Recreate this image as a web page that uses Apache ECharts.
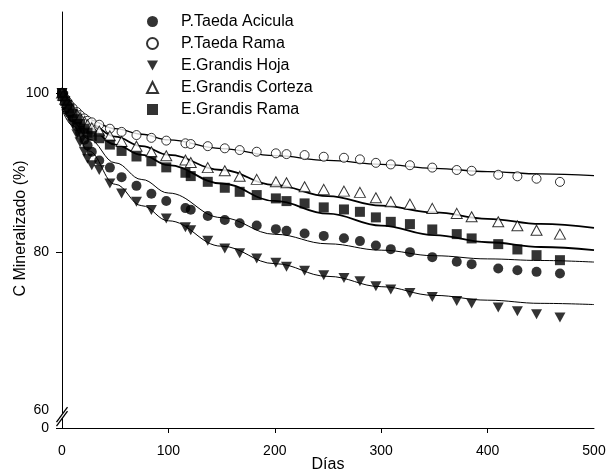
<!DOCTYPE html>
<html>
<head>
<meta charset="utf-8">
<script src="https://cdn.jsdelivr.net/npm/echarts@6/dist/echarts.min.js"></script>
<style>
  html, body { margin: 0; padding: 0; background: #ffffff; }
  #chart { width: 608px; height: 472px; }
</style>
</head>
<body>
<div id="chart"></div>
<script>
// Sampling days (incubation time, días)
const days = [0, 1, 3, 5, 7, 10, 14, 17, 21, 24, 28, 35, 45, 56, 70, 84, 98, 116, 121, 137, 153, 167, 183,
  201, 211, 228, 246, 265, 280, 295, 309, 327, 348, 371, 385, 410, 428, 446, 468];

// Remaining carbon (%) per residue
const taedaAcicula = [100, 99.5, 98.9, 98.2, 97.6, 96.9, 95.8, 95.0, 94.1, 93.4, 92.6, 91.5, 90.6, 89.4, 88.3, 87.3, 86.4, 85.5, 85.3, 84.5, 84.0, 83.6, 83.3,
  82.85, 82.64, 82.31, 82.0, 81.71, 81.34, 80.79, 80.33, 79.95, 79.32, 78.73, 78.44, 77.89, 77.68, 77.47, 77.26];
const taedaRama = [100, 99.8, 99.3, 98.9, 98.5, 98.1, 97.6, 97.2, 96.8, 96.5, 96.3, 96.0, 95.5, 95.1, 94.7, 94.35, 94.0, 93.66, 93.57, 93.3, 93.03, 92.81, 92.6,
  92.4, 92.3, 92.18, 91.97, 91.84, 91.64, 91.2, 91.0, 90.9, 90.6, 90.3, 90.2, 89.7, 89.5, 89.2, 88.8];
const grandisHoja = [100, 99.4, 98.6, 97.8, 97.1, 96.1, 94.8, 93.8, 92.6, 91.7, 90.9, 90.3, 88.6, 87.35, 86.3, 85.25, 84.2, 83.1, 82.7, 81.4, 80.4, 79.8, 79.15,
  78.6, 78.1, 77.6, 77.05, 76.7, 76.3, 75.66, 75.25, 74.82, 74.31, 73.81, 73.48, 72.97, 72.51, 72.13, 71.71];
const grandisCorteza = [100, 99.7, 99.2, 98.8, 98.4, 97.9, 97.3, 96.9, 96.4, 96.0, 95.6, 95.2, 94.6, 93.9, 93.3, 92.6, 92.1, 91.55, 91.25, 90.6, 90.2, 89.5, 89.12,
  88.81, 88.69, 88.18, 87.86, 87.64, 87.48, 86.8, 86.3, 86.0, 85.46, 84.83, 84.4, 83.77, 83.27, 82.72, 82.22];
const grandisRama = [100, 99.6, 99.0, 98.5, 98.0, 97.4, 96.7, 96.1, 95.5, 95.0, 94.6, 94.3, 93.5, 92.7, 92.0, 91.4, 90.63, 89.95, 89.53, 88.81, 88.06, 87.55, 87.14,
  86.72, 86.38, 86.09, 85.59, 85.33, 85.03, 84.33, 83.77, 83.48, 82.81, 82.22, 81.68, 80.96, 80.29, 79.57, 78.94];

// Fitted decomposition curves
const fitDays = [0, 10, 25, 50, 75, 100, 150, 200, 250, 300, 350, 400, 450, 500];
const fitTaedaAcicula = [98.0, 96.4, 94.2, 91.2, 89.1, 87.4, 84.3, 82.2, 81.0, 80.2, 79.5, 79.1, 78.9, 78.7];
const fitTaedaRama = [98.5, 97.6, 96.6, 95.5, 94.8, 94.1, 93.0, 92.1, 91.5, 91.0, 90.5, 90.1, 89.8, 89.6];
const fitGrandisHoja = [97.9, 95.9, 92.7, 88.5, 85.8, 83.9, 80.7, 78.5, 76.9, 75.6, 74.5, 73.9, 73.5, 73.35];
const fitGrandisCorteza = [98.4, 97.5, 96.2, 94.5, 93.3, 92.2, 90.3, 88.4, 87.0, 85.8, 84.95, 84.15, 83.5, 83.0];
const fitGrandisRama = [98.2, 97.2, 95.6, 93.5, 92.2, 90.9, 88.6, 86.4, 84.8, 83.3, 82.1, 81.2, 80.6, 80.2];

const seriesNames = ['P.Taeda Acicula', 'P.Taeda Rama', 'E.Grandis Hoja', 'E.Grandis Corteza', 'E.Grandis Rama'];
const xTicks = [100, 200, 300, 400];
const yLabelValues = [60, 80, 100];

// The y axis is broken below 60; its lower end stands for 0.
const Y_BOTTOM = 57.8;
const Y_TOP = 110.2;
const Y_BREAK = 59.3;

const FONT = 'Liberation Sans, Arial, sans-serif';
const DOWN_TRIANGLE = 'path://M0,0 L10,0 L5,9 Z';

function pairs(xs, ys) { return xs.map((x, i) => [x, ys[i]]); }

const markerStyles = [
  { symbol: 'circle', symbolSize: 10, itemStyle: { color: '#000' } },
  { symbol: 'circle', symbolSize: 9, itemStyle: { color: '#fff', borderColor: '#000', borderWidth: 1 } },
  { symbol: DOWN_TRIANGLE, symbolSize: [11, 10], itemStyle: { color: '#000' } },
  { symbol: 'triangle', symbolSize: [11, 10], itemStyle: { color: '#fff', borderColor: '#000', borderWidth: 1 } },
  { symbol: 'rect', symbolSize: 10, itemStyle: { color: '#000' } }
];
const observed = [taedaAcicula, taedaRama, grandisHoja, grandisCorteza, grandisRama];
const fitted = [fitTaedaAcicula, fitTaedaRama, fitGrandisHoja, fitGrandisCorteza, fitGrandisRama];
const fitWidths = [1, 1.3, 1, 1.8, 1.8];

const series = [];
fitted.forEach((vals, i) => {
  series.push({
    name: 'ajuste ' + seriesNames[i],
    type: 'line',
    data: pairs(fitDays, vals),
    symbol: 'none',
    smooth: 0.4,
    smoothMonotone: 'x',
    silent: true,
    z: 1,
    lineStyle: { color: '#000', width: fitWidths[i] }
  });
});
observed.forEach((vals, i) => {
  series.push(Object.assign({
    name: seriesNames[i],
    type: 'scatter',
    data: pairs(days, vals),
    z: 3
  }, markerStyles[i]));
});

const chart = echarts.init(document.getElementById('chart'), null, { renderer: 'canvas' });
chart.setOption({
  animation: false,
  backgroundColor: '#ffffff',
  textStyle: { fontFamily: FONT, color: '#000' },
  grid: { left: 62, right: 14, top: 12, bottom: 44, containLabel: false, outerBoundsMode: 'none' },
  legend: {
    data: seriesNames,
    orient: 'vertical',
    left: 146,
    top: 13,
    padding: 0,
    itemGap: 5,
    itemWidth: 11,
    itemHeight: 11,
    textStyle: { fontFamily: FONT, fontSize: 16, color: '#000', lineHeight: 17, padding: [0, 0, 0, 18] }
  },
  xAxis: {
    type: 'value',
    min: 0,
    max: 500,
    interval: 100,
    name: 'Días',
    nameLocation: 'middle',
    nameGap: 29,
    nameMoveOverlap: false,
    nameTextStyle: { fontFamily: FONT, fontSize: 16, color: '#000' },
    splitLine: { show: false },
    axisLine: { show: true, lineStyle: { color: '#000', width: 1 } },
    axisTick: { show: true, customValues: xTicks, length: 5, lineStyle: { color: '#000' } },
    axisLabel: { fontFamily: FONT, fontSize: 14, color: '#000', margin: 16, showMinLabel: true, showMaxLabel: true }
  },
  yAxis: {
    type: 'value',
    min: Y_BOTTOM,
    max: Y_TOP,
    name: 'C Mineralizado (%)',
    nameLocation: 'middle',
    nameGap: 33,
    nameMoveOverlap: false,
    nameTextStyle: { fontFamily: FONT, fontSize: 16, color: '#000', padding: [0, 17, 0, 0] },
    splitLine: { show: false },
    axisLine: { show: true, lineStyle: { color: '#000', width: 1 } },
    axisTick: { show: true, customValues: [Y_BOTTOM].concat(yLabelValues.slice(1)), length: 6, lineStyle: { color: '#000' } },
    axisLabel: {
      fontFamily: FONT, fontSize: 14, color: '#000', margin: 13,
      customValues: [Y_BOTTOM].concat(yLabelValues),
      formatter: v => (v < 59 ? '0' : String(Math.round(v)))
    }
  },
  series: series
});

// Break marks on the y axis just above its lower end
const bp = chart.convertToPixel({ gridIndex: 0 }, [0, Y_BREAK]);
const cx = bp[0], cy = bp[1];
chart.setOption({
  graphic: [
    {
      type: 'polygon', z: 100,
      shape: { points: [[cx - 5.5, cy + 6], [cx + 5.5, cy - 9], [cx + 5.5, cy - 5], [cx - 5.5, cy + 10]] },
      style: { fill: '#fff' }
    },
    {
      type: 'line', z: 101,
      shape: { x1: cx - 5.5, y1: cy + 6, x2: cx + 5.5, y2: cy - 9 },
      style: { stroke: '#000', lineWidth: 1.3 }
    },
    {
      type: 'line', z: 101,
      shape: { x1: cx - 5.5, y1: cy + 10, x2: cx + 5.5, y2: cy - 5 },
      style: { stroke: '#000', lineWidth: 1.3 }
    }
  ]
});
</script>
</body>
</html>
